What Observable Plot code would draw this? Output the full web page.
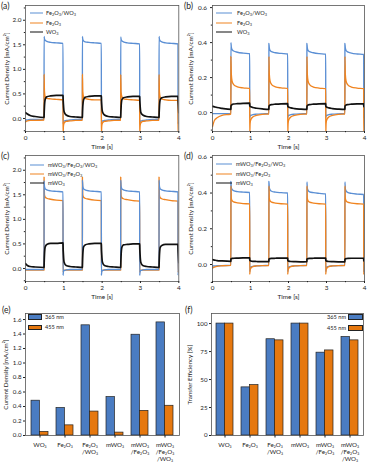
<!DOCTYPE html>
<html><head><meta charset="utf-8">
<script src="https://cdn.jsdelivr.net/npm/d3@7"></script>
<script src="https://cdn.jsdelivr.net/npm/@observablehq/plot@0.6"></script>
<style>
body{margin:0;background:#fff;}
#fig{position:relative;width:367px;height:466px;overflow:hidden;font-family:Lato,"DejaVu Sans",sans-serif;color:#222;}
.panel{position:absolute;}
.panel svg{display:block;overflow:visible;}
.plab{position:absolute;font-size:8.5px;line-height:1;}
.leg{position:absolute;font-size:5.6px;line-height:1;white-space:nowrap;transform:translateY(-50%);}
.leg sub{font-size:70%;vertical-align:-1px;}
.ls{position:absolute;height:0;border-top:1.7px solid;transform:translateY(-50%);}
.sw{position:absolute;border:0.8px solid #222;box-sizing:border-box;}
</style></head><body><div id="fig"></div>
<script>
// ---------- data ----------
const time = [0, 0.05, 0.12, 0.25,
 0.484, 0.485, 0.495, 0.515, 0.555, 0.655, 0.805, 0.979, 0.98, 0.99, 1.01, 1.06, 1.16, 1.31,
 1.484, 1.485, 1.495, 1.515, 1.555, 1.655, 1.805, 1.979, 1.98, 1.99, 2.01, 2.06, 2.16, 2.31,
 2.484, 2.485, 2.495, 2.515, 2.555, 2.655, 2.805, 2.979, 2.98, 2.99, 3.01, 3.06, 3.16, 3.31,
 3.484, 3.485, 3.495, 3.515, 3.555, 3.655, 3.805, 3.979, 3.98, 3.99, 4.0];

// (a)
const aFeWO = [-0.03, -0.03, -0.02, -0.02,
 -0.02, 1.67, 1.62, 1.59, 1.57, 1.55, 1.54, 1.53, -0.11, -0.07, -0.05, -0.04, -0.03, -0.02,
 -0.02, 1.67, 1.61, 1.58, 1.56, 1.55, 1.54, 1.53, -0.11, -0.07, -0.05, -0.04, -0.03, -0.02,
 -0.02, 1.66, 1.61, 1.58, 1.56, 1.54, 1.53, 1.52, -0.11, -0.07, -0.05, -0.04, -0.03, -0.02,
 -0.02, 1.67, 1.61, 1.58, 1.56, 1.54, 1.53, 1.52, -0.11, -0.07, -0.05];
const aFe = [-0.07, -0.05, -0.04, -0.04,
 -0.03, 0.90, 0.55, 0.44, 0.41, 0.40, 0.39, 0.38, -0.32, -0.15, -0.09, -0.06, -0.05, -0.04,
 -0.04, 0.90, 0.55, 0.44, 0.41, 0.39, 0.38, 0.38, -0.32, -0.15, -0.09, -0.06, -0.05, -0.04,
 -0.04, 0.89, 0.54, 0.44, 0.40, 0.39, 0.38, 0.37, -0.32, -0.15, -0.09, -0.06, -0.05, -0.04,
 -0.04, 0.89, 0.54, 0.43, 0.40, 0.38, 0.37, 0.37, -0.32, -0.15, -0.09];
const aWO = [0.12, 0.09, 0.06, 0.04,
 0.02, 0.05, 0.25, 0.39, 0.44, 0.46, 0.47, 0.47, 0.44, 0.28, 0.13, 0.07, 0.04, 0.03,
 0.02, 0.05, 0.25, 0.38, 0.43, 0.45, 0.46, 0.46, 0.43, 0.27, 0.13, 0.07, 0.04, 0.03,
 0.02, 0.05, 0.24, 0.38, 0.42, 0.44, 0.45, 0.45, 0.42, 0.27, 0.12, 0.07, 0.04, 0.03,
 0.02, 0.05, 0.24, 0.38, 0.42, 0.44, 0.45, 0.45, 0.42, 0.27, 0.12];

// (b)
const bFeWO = [-0.006, -0.006, -0.006, -0.006,
 -0.006, 0.40, 0.375, 0.36, 0.352, 0.345, 0.34, 0.337, -0.03, -0.02, -0.016, -0.012, -0.009, -0.007,
 -0.006, 0.395, 0.37, 0.355, 0.348, 0.342, 0.338, 0.335, -0.03, -0.02, -0.016, -0.012, -0.009, -0.007,
 -0.006, 0.395, 0.37, 0.355, 0.348, 0.342, 0.337, 0.334, -0.03, -0.02, -0.016, -0.012, -0.009, -0.007,
 -0.006, 0.395, 0.37, 0.355, 0.347, 0.34, 0.335, 0.332, -0.03, -0.02, -0.016];
const bFe = [-0.08, -0.045, -0.03, -0.016,
 -0.008, 0.32, 0.22, 0.18, 0.16, 0.147, 0.141, 0.138, -0.12, -0.06, -0.04, -0.025, -0.016, -0.01,
 -0.008, 0.32, 0.22, 0.18, 0.16, 0.147, 0.141, 0.138, -0.12, -0.06, -0.04, -0.025, -0.016, -0.01,
 -0.008, 0.32, 0.22, 0.18, 0.16, 0.146, 0.14, 0.137, -0.12, -0.06, -0.04, -0.025, -0.016, -0.01,
 -0.008, 0.32, 0.22, 0.18, 0.16, 0.146, 0.14, 0.137, -0.12, -0.06, -0.04];
const bWO = [0.036, 0.033, 0.029, 0.024,
 0.018, 0.034, 0.042, 0.046, 0.049, 0.051, 0.053, 0.054, 0.04, 0.036, 0.033, 0.029, 0.025, 0.021,
 0.018, 0.033, 0.04, 0.044, 0.046, 0.048, 0.05, 0.051, 0.038, 0.034, 0.031, 0.027, 0.023, 0.02,
 0.018, 0.033, 0.04, 0.044, 0.046, 0.048, 0.05, 0.051, 0.038, 0.034, 0.031, 0.027, 0.023, 0.02,
 0.018, 0.033, 0.04, 0.044, 0.046, 0.048, 0.05, 0.05, 0.038, 0.034, 0.031];

// (c)
const cMFeWO = [-0.02, -0.02, -0.02, -0.02,
 -0.02, 1.78, 1.67, 1.62, 1.60, 1.58, 1.57, 1.56, -0.14, -0.06, -0.04, -0.03, -0.02, -0.02,
 -0.02, 1.80, 1.67, 1.62, 1.60, 1.58, 1.57, 1.56, -0.14, -0.06, -0.04, -0.03, -0.02, -0.02,
 -0.02, 1.80, 1.67, 1.62, 1.60, 1.58, 1.57, 1.56, -0.14, -0.06, -0.04, -0.03, -0.02, -0.02,
 -0.02, 1.80, 1.67, 1.62, 1.60, 1.58, 1.57, 1.56, -0.14, -0.06, -0.04];
const cMFe = [-0.03, -0.03, -0.03, -0.03,
 -0.03, 1.86, 1.50, 1.45, 1.43, 1.41, 1.39, 1.38, -0.08, -0.05, -0.04, -0.03, -0.03, -0.03,
 -0.03, 1.86, 1.50, 1.45, 1.43, 1.41, 1.39, 1.38, -0.08, -0.05, -0.04, -0.03, -0.03, -0.03,
 -0.03, 1.86, 1.49, 1.44, 1.42, 1.40, 1.38, 1.37, -0.08, -0.05, -0.04, -0.03, -0.03, -0.03,
 -0.03, 1.86, 1.49, 1.44, 1.42, 1.40, 1.38, 1.37, -0.08, -0.05, -0.04];
const cMWO = [0.10, 0.06, 0.04, 0.03,
 0.02, 0.05, 0.28, 0.44, 0.49, 0.51, 0.51, 0.52, 0.47, 0.28, 0.12, 0.06, 0.04, 0.03,
 0.02, 0.05, 0.28, 0.44, 0.48, 0.50, 0.51, 0.51, 0.46, 0.28, 0.12, 0.06, 0.04, 0.03,
 0.02, 0.05, 0.28, 0.43, 0.48, 0.49, 0.50, 0.50, 0.45, 0.28, 0.12, 0.06, 0.04, 0.03,
 0.02, 0.05, 0.27, 0.43, 0.47, 0.49, 0.49, 0.49, 0.45, 0.27, 0.12];

// (d)
const dMFeWO = [-0.008, -0.008, -0.007, -0.006,
 -0.005, 0.465, 0.43, 0.42, 0.413, 0.408, 0.405, 0.403, -0.04, -0.02, -0.014, -0.01, -0.008, -0.006,
 -0.005, 0.465, 0.43, 0.418, 0.41, 0.405, 0.402, 0.40, -0.04, -0.02, -0.014, -0.01, -0.008, -0.006,
 -0.005, 0.462, 0.428, 0.415, 0.407, 0.402, 0.398, 0.395, -0.04, -0.02, -0.014, -0.01, -0.008, -0.006,
 -0.005, 0.462, 0.425, 0.412, 0.404, 0.398, 0.394, 0.392, -0.04, -0.02, -0.014];
const dMFe = [-0.02, -0.015, -0.01, -0.007,
 -0.005, 0.44, 0.37, 0.357, 0.35, 0.345, 0.341, 0.339, -0.055, -0.03, -0.02, -0.012, -0.008, -0.006,
 -0.006, 0.44, 0.37, 0.356, 0.349, 0.344, 0.34, 0.338, -0.055, -0.03, -0.02, -0.012, -0.008, -0.006,
 -0.006, 0.44, 0.37, 0.356, 0.349, 0.344, 0.34, 0.338, -0.055, -0.03, -0.02, -0.012, -0.008, -0.006,
 -0.006, 0.44, 0.37, 0.356, 0.349, 0.344, 0.34, 0.338, -0.055, -0.03, -0.02];
const dMWO = [0.027, 0.025, 0.022, 0.02,
 0.018, 0.03, 0.033, 0.034, 0.035, 0.036, 0.037, 0.037, 0.026, 0.022, 0.02, 0.018, 0.017, 0.016,
 0.016, 0.029, 0.032, 0.033, 0.034, 0.035, 0.036, 0.036, 0.025, 0.021, 0.019, 0.017, 0.016, 0.015,
 0.016, 0.029, 0.032, 0.033, 0.034, 0.035, 0.036, 0.036, 0.025, 0.021, 0.019, 0.017, 0.016, 0.015,
 0.015, 0.028, 0.031, 0.033, 0.034, 0.035, 0.035, 0.035, 0.024, 0.02, 0.018];

// (e), (f)
const barCats = ["WO₃", "Fe₂O₃", "Fe₂O₃\n/WO₃", "mWO₃", "mWO₃\n/Fe₂O₃", "mWO₃\n/Fe₂O₃\n/WO₃"];
const jd365 = [0.48, 0.38, 1.52, 0.53, 1.39, 1.56];
const jd455 = [0.05, 0.14, 0.33, 0.04, 0.34, 0.41];
const te365 = [100, 43, 86, 100, 74, 88];
const te455 = [100, 45, 85, 100, 76, 85];
const wavelengths = ["365 nm", "455 nm"];

// ticks
const xTicks = [0, 1, 2, 3, 4];
const xMinor = [0.5, 1.5, 2.5, 3.5];
const yTicksBig = [0, 0.5, 1.0, 1.5, 2.0];
const yMinorBig = [-0.25, 0.25, 0.75, 1.25, 1.75, 2.25];
const yTicksSmall = [0, 0.2, 0.4, 0.6];
const yMinorSmall = [-0.1, 0.1, 0.3, 0.5];
const yTicksE = [0, 0.2, 0.4, 0.6, 0.8, 1.0, 1.2, 1.4, 1.6];
const yTicksF = [0, 25, 50, 75, 100];

// ---------- style ----------
const BLUE_L = "#5B8FD4", ORANGE_L = "#F08420", BLACK = "#111";
const BLUE_B = "#4A7CC2", ORANGE_B = "#E6780F";
const FONT = "Lato, 'DejaVu Sans', sans-serif";
const fig = document.getElementById("fig");

function place(node, left, top) {
  const d = document.createElement("div");
  d.className = "panel";
  d.style.left = left + "px"; d.style.top = top + "px";
  d.appendChild(node);
  fig.appendChild(d);
  return d;
}
function addHTML(cls, html, css) {
  const e = document.createElement("div");
  e.className = cls; e.innerHTML = html;
  Object.assign(e.style, css);
  fig.appendChild(e);
}

function linePanel({series, yDomain, yTicks, yMinor, width, ml, mr, labelOffset, tickPad}) {
  const marks = series.map(s => Plot.line(time.map((t, i) => ({t, v: s.values[i]})),
    {x: "t", y: "v", stroke: s.color, strokeWidth: s.color === BLACK ? 1.7 : 1.35, curve: "monotone-x", clip: true}));
  return Plot.plot({
    width, height: 150, marginLeft: ml, marginRight: mr, marginTop: 5, marginBottom: 19,
    style: {fontFamily: FONT, fontSize: "6.4px", color: "#222", background: "transparent"},
    x: {domain: [0, 4]}, y: {domain: yDomain},
    marks: [
      ...marks,
      Plot.frame({stroke: "#555", strokeWidth: 0.8}),
      Plot.axisX({ticks: xTicks, tickSize: 2, tickPadding: 1.5, tickFormat: d => String(d),
        label: "Time [s]", labelAnchor: "center", labelOffset: 17.5, labelArrow: "none"}),
      Plot.axisX({ticks: xMinor, tickSize: 1.2, tickFormat: () => "", label: null}),
      Plot.axisY({ticks: yTicks, tickSize: 2, tickPadding: tickPad, tickFormat: d3.format(".1f"),
        label: "Current Density [mA/cm²]", labelAnchor: "center", labelOffset, labelArrow: "none"}),
      Plot.axisY({ticks: yMinor, tickSize: 1.2, tickFormat: () => "", label: null})
    ]
  });
}

function barPanel({v365, v455, yDomain, yTicks, yFormat, yLabel, width, ml, mr, labelOffset}) {
  const rows = barCats.map((c, i) => ({c, a: v365[i], b: v455[i]}));
  const pi = 0.33, po = 0.17;
  const step = (width - ml - mr) / (barCats.length - pi + 2 * po);
  const half = step * (1 - pi) / 2;
  return Plot.plot({
    width, height: 166, marginLeft: ml, marginRight: mr, marginTop: 13, marginBottom: 31,
    style: {fontFamily: FONT, fontSize: "6.2px", color: "#222", background: "transparent"},
    x: {type: "band", domain: barCats, paddingInner: pi, paddingOuter: po},
    y: {domain: yDomain},
    marks: [
      Plot.barY(rows, {x: "c", y: "a", fill: BLUE_B, stroke: "#222", strokeWidth: 0.7, insetRight: half}),
      Plot.barY(rows, {x: "c", y: "b", fill: ORANGE_B, stroke: "#222", strokeWidth: 0.7, insetLeft: half}),
      Plot.frame({stroke: "#555", strokeWidth: 0.8}),
      Plot.axisX({tickSize: 2.5, tickPadding: 4.5, lineHeight: 1.12, label: null}),
      Plot.axisY({ticks: yTicks, tickSize: 2, tickPadding: 2, tickFormat: yFormat,
        label: yLabel, labelAnchor: "center", labelOffset, labelArrow: "none"})
    ]
  });
}

// (a)
place(linePanel({series: [
  {values: aFeWO, color: BLUE_L}, {values: aFe, color: ORANGE_L}, {values: aWO, color: BLACK}],
  yDomain: [-0.265, 2.3], yTicks: yTicksBig, yMinor: yMinorBig, width: 183, ml: 25, mr: 4.7,
  labelOffset: 21, tickPad: 2}), 0, 0);
// (b)
place(linePanel({series: [
  {values: bFeWO, color: BLUE_L}, {values: bFe, color: ORANGE_L}, {values: bWO, color: BLACK}],
  yDomain: [-0.108, 0.612], yTicks: yTicksSmall, yMinor: yMinorSmall, width: 184, ml: 29, mr: 3,
  labelOffset: 24, tickPad: 3.5}), 183, 0);
// (c)
place(linePanel({series: [
  {values: cMFe, color: ORANGE_L}, {values: cMFeWO, color: BLUE_L}, {values: cMWO, color: BLACK}],
  yDomain: [-0.265, 2.3], yTicks: yTicksBig, yMinor: yMinorBig, width: 183, ml: 25, mr: 4.7,
  labelOffset: 21, tickPad: 2}), 0, 150);
// (d)
place(linePanel({series: [
  {values: dMFeWO, color: BLUE_L}, {values: dMFe, color: ORANGE_L}, {values: dMWO, color: BLACK}],
  yDomain: [-0.095, 0.61], yTicks: yTicksSmall, yMinor: yMinorSmall, width: 184, ml: 29, mr: 3,
  labelOffset: 24, tickPad: 3.5}), 183, 150);
// (e)
place(barPanel({v365: jd365, v455: jd455, yDomain: [0, 1.683], yTicks: yTicksE, yFormat: d3.format(".1f"),
  yLabel: "Current Density [mA/cm²]", width: 183, ml: 25, mr: 4, labelOffset: 22}), 0, 300);
// (f)
place(barPanel({v365: te365, v455: te455, yDomain: [0, 109], yTicks: yTicksF, yFormat: d => String(d),
  yLabel: "Transfer Efficiency [%]", width: 184, ml: 28, mr: 4, labelOffset: 23.5}), 183, 300);

// panel labels
[["(a)", 1, 2], ["(b)", 184, 2], ["(c)", 1, 152], ["(d)", 184, 152], ["(e)", 2, 306], ["(f)", 185, 306]]
  .forEach(([t, x, y]) => addHTML("plab", t, {left: x + "px", top: y + "px"}));

// line legends
const FeWO = "Fe<sub>2</sub>O<sub>3</sub>/WO<sub>3</sub>", Fe = "Fe<sub>2</sub>O<sub>3</sub>", WO = "WO<sub>3</sub>";
const mFeWO = "mWO<sub>3</sub>/Fe<sub>2</sub>O<sub>3</sub>/WO<sub>3</sub>", mFe = "mWO<sub>3</sub>/Fe<sub>2</sub>O<sub>3</sub>", mWO = "mWO<sub>3</sub>";
function lineLegend(items, x0, x1, tx, ys) {
  items.forEach(([label, color], i) => {
    addHTML("ls", "", {left: x0 + "px", width: (x1 - x0) + "px", top: ys[i] + "px", borderColor: color});
    addHTML("leg", label, {left: tx + "px", top: ys[i] + "px"});
  });
}
lineLegend([[FeWO, BLUE_L], [Fe, ORANGE_L], [WO, BLACK]], 30, 43, 46, [13, 23, 32]);
lineLegend([[FeWO, BLUE_L], [Fe, ORANGE_L], [WO, BLACK]], 216, 232, 237, [13, 23, 32]);
lineLegend([[mFeWO, BLUE_L], [mFe, ORANGE_L], [mWO, BLACK]], 30, 44, 48, [165, 174, 183]);
lineLegend([[mFeWO, BLUE_L], [mFe, ORANGE_L], [mWO, BLACK]], 216, 232, 236, [164, 174, 183]);

// bar legends
const swColors = [BLUE_B, ORANGE_B];
wavelengths.forEach((w, i) => {
  const y = [314, 324.5][i];
  addHTML("sw", "", {left: "27.5px", top: y + "px", width: "14.5px", height: "5.5px", background: swColors[i]});
  addHTML("leg", w, {left: "45px", top: (y + 2.8) + "px"});
  const y2 = [314, 325][i];
  addHTML("sw", "", {left: "348px", top: y2 + "px", width: "14.5px", height: "5.5px", background: swColors[i]});
  addHTML("leg", w, {left: "346px", top: (y2 + 2.8) + "px", transform: "translate(-100%,-50%)"});
});
</script></body></html>
